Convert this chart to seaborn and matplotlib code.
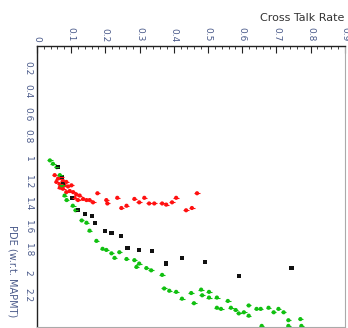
import numpy as np
import pandas as pd
import matplotlib
matplotlib.use('Agg')
import matplotlib.pyplot as plt
import seaborn as sns
from matplotlib.ticker import MultipleLocator

# data (cross talk rate, PDE w.r.t. MAPMT)
green_x = [0.038, 0.047, 0.058, 0.067, 0.073, 0.081, 0.087, 0.105, 0.113, 0.131,
           0.145, 0.154, 0.174, 0.192, 0.203, 0.218, 0.227, 0.241, 0.262, 0.285,
           0.299, 0.291, 0.320, 0.334, 0.366, 0.372, 0.387, 0.407, 0.424, 0.451,
           0.459, 0.480, 0.483, 0.503, 0.503, 0.526, 0.526, 0.538, 0.558, 0.567,
           0.581, 0.590, 0.605, 0.619, 0.619, 0.642, 0.654, 0.677, 0.692, 0.706,
           0.721, 0.735, 0.770, 0.657, 0.735, 0.773]
green_y = [1.01, 1.04, 1.07, 1.14, 1.23, 1.32, 1.36, 1.41, 1.45, 1.54,
           1.56, 1.63, 1.72, 1.79, 1.80, 1.83, 1.87, 1.82, 1.88, 1.89,
           1.92, 1.95, 1.96, 1.98, 2.02, 2.14, 2.16, 2.17, 2.23, 2.18,
           2.27, 2.15, 2.20, 2.17, 2.22, 2.22, 2.31, 2.32, 2.25, 2.31,
           2.33, 2.36, 2.35, 2.29, 2.38, 2.32, 2.32, 2.31, 2.35, 2.32,
           2.35, 2.42, 2.41, 2.47, 2.47, 2.47]

black_x = [0.061, 0.073, 0.076, 0.102, 0.119, 0.140, 0.160, 0.169, 0.198, 0.218,
           0.247, 0.265, 0.299, 0.337, 0.378, 0.424, 0.491, 0.590, 0.744]
black_y = [1.07, 1.16, 1.21, 1.34, 1.45, 1.48, 1.50, 1.56, 1.63, 1.65,
           1.68, 1.78, 1.80, 1.81, 1.92, 1.87, 1.91, 2.03, 1.96]

red_x = [0.052, 0.062, 0.057, 0.072, 0.067, 0.076, 0.081, 0.086, 0.091, 0.076,
         0.096, 0.101, 0.106, 0.115, 0.110, 0.125, 0.135, 0.145, 0.154, 0.164,
         0.067, 0.086, 0.120, 0.177, 0.203, 0.206, 0.235, 0.247, 0.262, 0.285,
         0.299, 0.314, 0.328, 0.343, 0.366, 0.378, 0.395, 0.407, 0.436, 0.453,
         0.468]
red_y = [1.14, 1.17, 1.20, 1.16, 1.22, 1.19, 1.23, 1.20, 1.24, 1.26,
         1.28, 1.23, 1.29, 1.31, 1.34, 1.32, 1.35, 1.36, 1.36, 1.38,
         1.25, 1.29, 1.36, 1.30, 1.36, 1.39, 1.34, 1.43, 1.41, 1.35,
         1.38, 1.34, 1.39, 1.39, 1.39, 1.40, 1.38, 1.34, 1.45, 1.43,
         1.30]

x_ticks = [0, 0.1, 0.2, 0.3, 0.4, 0.5, 0.6, 0.7, 0.8, 0.9]
x_ticklabels = ['0', '0.1', '0.2', '0.3', '0.4', '0.5', '0.6', '0.7', '0.8', '0.9']
y_ticks = [0.2, 0.4, 0.6, 0.8, 1.0, 1.2, 1.4, 1.6, 1.8, 2.0, 2.2]
y_ticklabels = ['0.2', '0.4', '0.6', '0.8', '1', '1.2', '1.4', '1.6', '1.8', '2', '2.2']

df = pd.concat([
    pd.DataFrame({'ct': red_x, 'pde': red_y, 'set': 'red'}),
    pd.DataFrame({'ct': green_x, 'pde': green_y, 'set': 'green'}),
    pd.DataFrame({'ct': black_x, 'pde': black_y, 'set': 'black'}),
])

sns.set_style("white")
plt.rcParams['font.family'] = ['DejaVu Sans']

fig = plt.figure(figsize=(3.48, 3.28), dpi=100)
ax = fig.add_axes([0.106, 0.003, 0.885, 0.857])

palette = {'red': '#ff1010', 'green': '#10c010', 'black': '#111111'}

# little horizontal error bars on the red and green points
for name, xs, ys in [('red', red_x, red_y), ('green', green_x, green_y)]:
    ax.errorbar(xs, ys, xerr=0.008, fmt='none', ecolor=palette[name],
                elinewidth=0.8, capsize=0)

sns.scatterplot(data=df, x='ct', y='pde', hue='set', style='set',
                palette=palette, markers={'red': 'o', 'green': 'o', 'black': 's'},
                s=9, edgecolor='none', legend=False, ax=ax)

ax.set_xlim(0, 0.895)
ax.set_ylim(2.48, 0)

ax.xaxis.tick_top()
ax.set_xticks(x_ticks, labels=x_ticklabels)
ax.xaxis.set_minor_locator(MultipleLocator(0.02))
ax.set_yticks(y_ticks, labels=y_ticklabels)
ax.yaxis.set_minor_locator(MultipleLocator(0.04))

lab_col = '#4a5a8a'
ax.tick_params(axis='both', which='both', direction='in', colors='#222222',
               labelcolor=lab_col, labelsize=6.5)
ax.tick_params(axis='both', which='major', length=5, width=0.8)
ax.tick_params(axis='both', which='minor', length=2.5, width=0.6)
ax.tick_params(axis='x', labelrotation=-90, pad=3)
ax.tick_params(axis='y', labelrotation=-90, pad=3)
for lab in ax.get_yticklabels():
    lab.set_va('center')

ax.set_xlabel('')
ax.set_ylabel('PDE (w.r.t. MAPMT)', rotation=-90, color=lab_col, fontsize=7,
              labelpad=6)
ax.yaxis.set_label_coords(-0.095, 0.2)

for side in ['top', 'left']:
    ax.spines[side].set_color('#222222')
    ax.spines[side].set_linewidth(1.0)
for side in ['right', 'bottom']:
    ax.spines[side].set_color('#aaaaaa')
    ax.spines[side].set_linewidth(0.8)

fig.text(0.99, 1 - 18 / 328, 'Cross Talk Rate', ha='right', va='center',
         fontsize=8, color='#333333')

fig.savefig('out.png', dpi=100)
